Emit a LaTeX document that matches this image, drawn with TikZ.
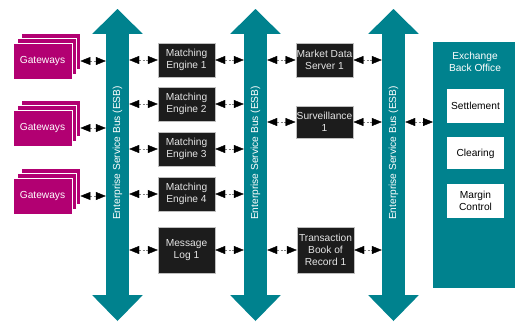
\documentclass[tikz,border=0pt]{standalone}
\usepackage{fontspec}
\setmainfont{Liberation Sans}
\usetikzlibrary{positioning,arrows.meta,shadows}

\definecolor{esbteal}{RGB}{0,130,142}
\definecolor{gwpink}{RGB}{178,0,114}
\definecolor{boxblack}{RGB}{28,28,28}

\tikzset{
  shaft/.style={fill=esbteal, minimum width=23pt, minimum height=261pt, inner sep=0pt},
  esb/.style={rotate=90, text=white},
  gateway/.style={fill=gwpink, draw=white, line width=0.8pt, minimum width=59pt, minimum height=36pt,
    text=white, double copy shadow={shadow xshift=4pt, shadow yshift=5pt}},
  engine/.style={fill=boxblack, draw=gray!50, minimum width=57pt, minimum height=34pt,
    text=white!90!black, align=center, inner sep=1pt},
  officebox/.style={fill=white, minimum width=57pt, minimum height=34pt, align=center, inner sep=1pt},
  link/.style={gray, dash pattern=on 2pt off 1.5pt,
    {Triangle[length=10pt,width=8pt,color=black]}-{Triangle[length=10pt,width=8pt,color=black]}}
}

\begin{document}
\begin{tikzpicture}[x=1pt, y=-1pt, every node/.style={font=\fontsize{10.2}{12.2}\selectfont}]
    \useasboundingbox (0,0) rectangle (515,322);

    % the three buses
    \node[shaft] (bus1) at (117.5,164.5) {};
    \node[shaft] (bus2) at (255.5,164.5) {};
    \node[shaft] (bus3) at (393.5,164.5) {};
    \fill[esbteal] (bus1.north west) -- ++(-13.5,0) -- (bus1.north |- 0,9) -- ([xshift=13.5pt]bus1.north east) -- (bus1.north east) -- cycle;
    \fill[esbteal] (bus1.south west) -- ++(-13.5,0) -- (bus1.south |- 0,321) -- ([xshift=13.5pt]bus1.south east) -- (bus1.south east) -- cycle;
    \fill[esbteal] (bus2.north west) -- ++(-13.5,0) -- (bus2.north |- 0,9) -- ([xshift=13.5pt]bus2.north east) -- (bus2.north east) -- cycle;
    \fill[esbteal] (bus2.south west) -- ++(-13.5,0) -- (bus2.south |- 0,321) -- ([xshift=13.5pt]bus2.south east) -- (bus2.south east) -- cycle;
    \fill[esbteal] (bus3.north west) -- ++(-13.5,0) -- (bus3.north |- 0,9) -- ([xshift=13.5pt]bus3.north east) -- (bus3.north east) -- cycle;
    \fill[esbteal] (bus3.south west) -- ++(-13.5,0) -- (bus3.south |- 0,321) -- ([xshift=13.5pt]bus3.south east) -- (bus3.south east) -- cycle;
    \node[esb] (esb1) at (117.5,153) {Enterprise Service Bus (ESB)};
    \node[esb] (esb2) at (255.5,153) {Enterprise Service Bus (ESB)};
    \node[esb] (esb3) at (393.5,153) {Enterprise Service Bus (ESB)};

    % gateways
    \node[gateway] (gw1) at (42.5,61) {Gateways};
    \node[gateway] (gw2) at (42.5,128) {Gateways};
    \node[gateway] (gw3) at (42.5,196) {Gateways};

    % engines and servers
    \node[engine] (me1) at (186.5,60) {Matching\\Engine 1};
    \node[engine] (me2) at (186.5,104) {Matching\\Engine 2};
    \node[engine] (me3) at (186.5,149) {Matching\\Engine 3};
    \node[engine] (me4) at (186.5,194) {Matching\\Engine 4};
    \node[engine, minimum height=46pt] (mlog) at (186.5,250) {Message\\Log 1};
    \node[engine] (mds) at (324.5,60) {Market Data\\Server 1};
    \node[engine, minimum height=32pt] (surv) at (324.5,122) {Surveillance\\1};
    \node[engine, minimum height=46pt] (tbr) at (325.5,250) {Transaction\\Book of\\Record 1};

    % back office
    \node[fill=esbteal, minimum width=90pt, minimum height=246pt, anchor=north west] (office) at (433,42) {};
    \node[text=white, align=center] (otitle) at (475,62) {Exchange\\Back Office};
    \node[officebox] (settle) at (475.5,106) {Settlement};
    \node[officebox, minimum height=32pt, below=14pt of settle] (clear) {Clearing};
    \node[officebox, below=14pt of clear] (margin) {Margin\\Control};

    % connectors
    \draw[link] ([xshift=8pt]gw1.east) -- (gw1 -| bus1.west);
    \draw[link] ([xshift=8pt]gw2.east) -- (gw2 -| bus1.west);
    \draw[link] ([xshift=8pt]gw3.east) -- (gw3 -| bus1.west);
    \draw[link] (bus1.east |- me1) -- (me1.west);
    \draw[link] (bus1.east |- me2) -- (me2.west);
    \draw[link] (bus1.east |- me3) -- (me3.west);
    \draw[link] (bus1.east |- me4) -- (me4.west);
    \draw[link] (bus1.east |- mlog) -- (mlog.west);
    \draw[link] (me1.east) -- (me1 -| bus2.west);
    \draw[link] (me2.east) -- (me2 -| bus2.west);
    \draw[link] (me3.east) -- (me3 -| bus2.west);
    \draw[link] (me4.east) -- (me4 -| bus2.west);
    \draw[link] (mlog.east) -- (mlog -| bus2.west);
    \draw[link] (bus2.east |- mds) -- (mds.west);
    \draw[link] (bus2.east |- surv) -- (surv.west);
    \draw[link] (bus2.east |- tbr) -- (tbr.west);
    \draw[link] (mds.east) -- (mds -| bus3.west);
    \draw[link] (surv.east) -- (surv -| bus3.west);
    \draw[link] (tbr.east) -- (tbr -| bus3.west);
    \draw[link] (bus3.east |- surv) -- (surv -| office.west);
\end{tikzpicture}
\end{document}
